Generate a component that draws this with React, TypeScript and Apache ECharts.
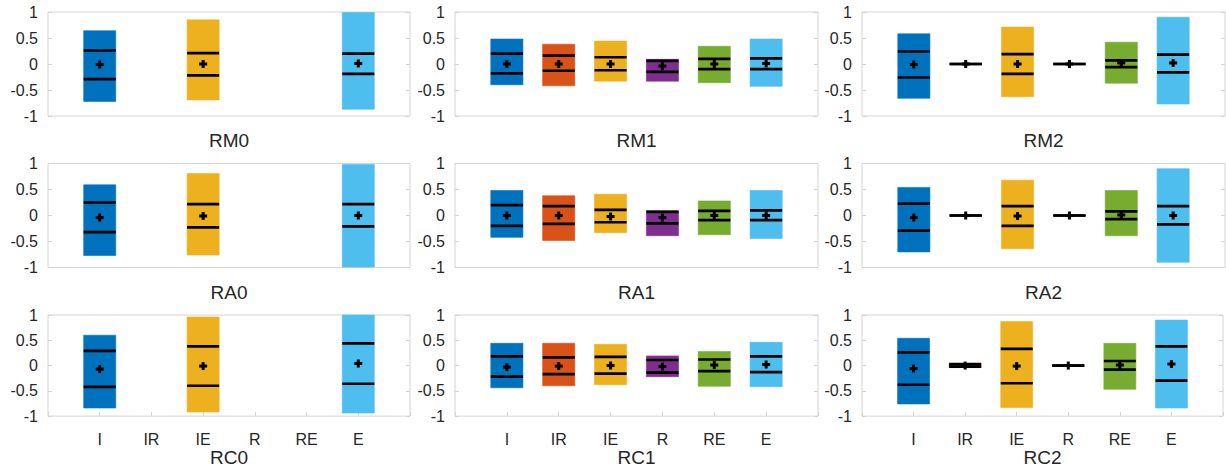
import React, { useEffect, useRef } from 'react';
import * as echarts from 'echarts';

const categories = ['I', 'IR', 'IE', 'R', 'RE', 'E'];
const panelNames = ['RM0', 'RM1', 'RM2', 'RA0', 'RA1', 'RA2', 'RC0', 'RC1', 'RC2'];
const yTicks = [-1, -0.5, 0, 0.5, 1];
const colors = ['#0072BD', '#D95319', '#EDB120', '#7E2F8E', '#77AC30', '#4DBEEE'];

// RM0
const RM0_max = [0.64, null, 0.85, null, null, 0.99];
const RM0_q3 = [0.26, null, 0.21, null, null, 0.2];
const RM0_mean = [-0.01, null, 0.0, null, null, 0.01];
const RM0_q1 = [-0.29, null, -0.22, null, null, -0.19];
const RM0_min = [-0.72, null, -0.69, null, null, -0.87];
// RM1
const RM1_max = [0.48, 0.38, 0.44, 0.09, 0.34, 0.48];
const RM1_q3 = [0.2, 0.16, 0.13, 0.06, 0.1, 0.11];
const RM1_mean = [0.0, 0.0, 0.0, -0.04, 0.0, 0.01];
const RM1_q1 = [-0.18, -0.13, -0.12, -0.15, -0.1, -0.1];
const RM1_min = [-0.4, -0.42, -0.33, -0.33, -0.36, -0.43];
// RM2
const RM2_max = [0.58, 0, 0.71, 0, 0.42, 0.9];
const RM2_q3 = [0.24, 0, 0.19, 0, 0.07, 0.18];
const RM2_mean = [-0.01, 0, 0.0, 0, 0.02, 0.02];
const RM2_q1 = [-0.26, 0, -0.19, 0, -0.06, -0.16];
const RM2_min = [-0.66, 0, -0.63, 0, -0.37, -0.77];
// RA0
const RA0_max = [0.59, null, 0.81, null, null, 0.98];
const RA0_q3 = [0.25, null, 0.22, null, null, 0.22];
const RA0_mean = [-0.04, null, -0.01, null, null, 0.0];
const RA0_q1 = [-0.32, null, -0.23, null, null, -0.21];
const RA0_min = [-0.77, null, -0.76, null, null, -0.99];
// RA1
const RA1_max = [0.48, 0.38, 0.41, 0.09, 0.28, 0.48];
const RA1_q3 = [0.2, 0.18, 0.11, 0.07, 0.09, 0.1];
const RA1_mean = [0.0, 0.0, -0.02, -0.04, 0.0, 0.0];
const RA1_q1 = [-0.2, -0.16, -0.13, -0.15, -0.09, -0.09];
const RA1_min = [-0.42, -0.48, -0.33, -0.39, -0.37, -0.44];
// RA2
const RA2_max = [0.54, 0, 0.68, 0, 0.48, 0.9];
const RA2_q3 = [0.23, 0, 0.18, 0, 0.08, 0.18];
const RA2_mean = [-0.04, 0, -0.01, 0, 0.01, 0.0];
const RA2_q1 = [-0.29, 0, -0.2, 0, -0.07, -0.17];
const RA2_min = [-0.7, 0, -0.64, 0, -0.39, -0.9];
// RC0
const RC0_max = [0.6, null, 0.96, null, null, 1.0];
const RC0_q3 = [0.29, null, 0.38, null, null, 0.44];
const RC0_mean = [-0.07, null, -0.01, null, null, 0.04];
const RC0_q1 = [-0.42, null, -0.4, null, null, -0.36];
const RC0_min = [-0.84, null, -0.92, null, null, -0.94];
// RC1
const RC1_max = [0.44, 0.44, 0.42, 0.19, 0.28, 0.46];
const RC1_q3 = [0.18, 0.16, 0.17, 0.11, 0.12, 0.18];
const RC1_mean = [-0.03, -0.01, 0.0, -0.02, 0.01, 0.02];
const RC1_q1 = [-0.22, -0.17, -0.16, -0.14, -0.11, -0.13];
const RC1_min = [-0.44, -0.4, -0.38, -0.22, -0.41, -0.42];
// RC2
const RC2_max = [0.54, 0.04, 0.87, 0, 0.44, 0.9];
const RC2_q3 = [0.26, 0.03, 0.33, 0, 0.09, 0.38];
const RC2_mean = [-0.06, 0.0, -0.01, 0, 0.01, 0.03];
const RC2_q1 = [-0.38, -0.02, -0.35, 0, -0.08, -0.3];
const RC2_min = [-0.76, -0.04, -0.83, 0, -0.47, -0.84];

const panels = [
  [RM0_min, RM0_q1, RM0_mean, RM0_q3, RM0_max],
  [RM1_min, RM1_q1, RM1_mean, RM1_q3, RM1_max],
  [RM2_min, RM2_q1, RM2_mean, RM2_q3, RM2_max],
  [RA0_min, RA0_q1, RA0_mean, RA0_q3, RA0_max],
  [RA1_min, RA1_q1, RA1_mean, RA1_q3, RA1_max],
  [RA2_min, RA2_q1, RA2_mean, RA2_q3, RA2_max],
  [RC0_min, RC0_q1, RC0_mean, RC0_q3, RC0_max],
  [RC1_min, RC1_q1, RC1_mean, RC1_q3, RC1_max],
  [RC2_min, RC2_q1, RC2_mean, RC2_q3, RC2_max],
];

const colLefts = [48, 455, 862];
const colWidths = [362, 363, 363];
const rowTops = [12, 163.5, 315];
const rowHeight = 104;
const BOX_W = 0.62;
const TEXT = '#262626';
const FRAME = '#d4d4d4';
const FONT = 'Liberation Sans, Arial, sans-serif';

export default function App() {
  const ref = useRef<HTMLDivElement>(null);
  useEffect(() => {
    if (!ref.current) return;
    const chart = echarts.init(ref.current, null, { renderer: 'svg' });
    const grid: any[] = [];
    const xAxis: any[] = [];
    const yAxis: any[] = [];
    const series: any[] = [];
    panels.forEach((p, k) => {
      const r = Math.floor(k / 3);
      const c = k % 3;
      const lastRow = r === 2;
      grid.push({
        left: colLefts[c], top: rowTops[r], width: colWidths[c], height: rowHeight,
        show: true, borderColor: FRAME, borderWidth: 1, backgroundColor: 'transparent',
      });
      xAxis.push({
        type: 'value', gridIndex: k, min: 0, max: 7, interval: 1, position: 'bottom',
        name: panelNames[k], nameLocation: 'middle', nameGap: lastRow ? 30 : 15,
        nameTextStyle: { color: TEXT, fontSize: 19, fontFamily: FONT },
        axisLine: { show: false, onZero: false },
        axisTick: { show: lastRow, inside: true, length: 4, lineStyle: { color: FRAME } },
        splitLine: { show: false },
        axisLabel: {
          show: lastRow, color: TEXT, fontSize: 16, fontFamily: FONT, margin: 15,
          formatter: (v: number) => (v >= 1 && v <= 6 ? categories[v - 1] : ''),
        },
      });
      yAxis.push({
        type: 'value', gridIndex: k, min: yTicks[0], max: yTicks[yTicks.length - 1], interval: 0.5,
        axisLine: { show: false, onZero: false },
        axisTick: { show: true, inside: true, length: 4, lineStyle: { color: FRAME } },
        splitLine: { show: false },
        axisLabel: { color: TEXT, fontSize: 16, fontFamily: FONT, margin: 10 },
      });
      yAxis.push({
        type: 'value', gridIndex: k, position: 'right', min: yTicks[0], max: yTicks[yTicks.length - 1], interval: 0.5,
        axisLine: { show: false, onZero: false },
        axisTick: { show: true, inside: true, length: 4, lineStyle: { color: FRAME } },
        splitLine: { show: false },
        axisLabel: { show: false },
      });
      const data: any[] = [];
      const [mn, q1, me, q3, mx] = p;
      for (let i = 0; i < categories.length; i++) {
        if (mx[i] === null) continue;
        data.push([i + 1, mn[i], q1[i], me[i], q3[i], mx[i], i]);
      }
      series.push({
        type: 'custom', xAxisIndex: k, yAxisIndex: k * 2, clip: false,
        data,
        renderItem: (params: any, api: any) => {
          const x = api.value(0);
          const lo = api.coord([x, api.value(1)]);
          const a = api.coord([x, api.value(2)]);
          const m = api.coord([x, api.value(3)]);
          const b = api.coord([x, api.value(4)]);
          const hi = api.coord([x, api.value(5)]);
          const w = api.size([BOX_W, 0])[0];
          const ci = api.value(6);
          const cx = lo[0];
          const col = colors[ci];
          return {
            type: 'group',
            children: [
              { type: 'rect', shape: { x: cx - w / 2, y: hi[1], width: w, height: lo[1] - hi[1] }, style: { fill: col, stroke: col, lineWidth: 0.6 } },
              { type: 'line', shape: { x1: cx - w / 2, y1: b[1], x2: cx + w / 2, y2: b[1] }, style: { stroke: '#000', lineWidth: 2.7 } },
              { type: 'line', shape: { x1: cx - w / 2, y1: a[1], x2: cx + w / 2, y2: a[1] }, style: { stroke: '#000', lineWidth: 2.7 } },
              { type: 'line', shape: { x1: cx - 4, y1: m[1], x2: cx + 4, y2: m[1] }, style: { stroke: '#000', lineWidth: 3 } },
              { type: 'line', shape: { x1: cx, y1: m[1] - 4, x2: cx, y2: m[1] + 4 }, style: { stroke: '#000', lineWidth: 3 } },
            ],
          };
        },
      });
    });
    chart.setOption({ animation: false, backgroundColor: '#ffffff', grid, xAxis, yAxis, series });
    return () => chart.dispose();
  }, []);
  return <div ref={ref} style={{ position: 'absolute', left: 0, top: 0, width: 1226, height: 468 }} />;
}
